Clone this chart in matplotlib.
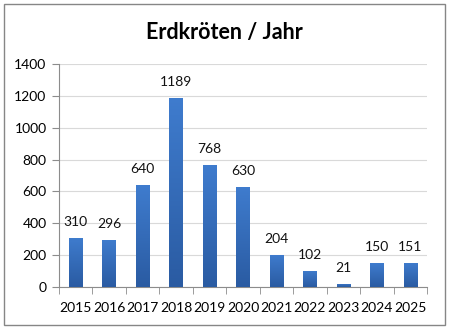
import numpy as np
import matplotlib
matplotlib.use("Agg")
import matplotlib.pyplot as plt
from matplotlib.patches import Rectangle
from matplotlib.colors import LinearSegmentedColormap

# chart data
years = ["2015", "2016", "2017", "2018", "2019", "2020",
         "2021", "2022", "2023", "2024", "2025"]
counts = [310, 296, 640, 1189, 768, 630, 204, 102, 21, 150, 151]
y_ticks = [0, 200, 400, 600, 800, 1000, 1200, 1400]

plt.rcParams['font.family'] = ['Lato', 'DejaVu Sans']

fig = plt.figure(figsize=(4.49, 3.29), dpi=100)
fig.patches.append(Rectangle((4 / 449, 4 / 329), 441 / 449, 321 / 329,
                             transform=fig.transFigure, fill=False,
                             edgecolor='#868686', linewidth=1.0))

ax = fig.add_axes([59 / 449, 42 / 329, 368 / 449, 223 / 329])
x = np.arange(len(years))
bars = ax.bar(x, counts, width=0.4, color='#3a72c0', zorder=2)

# vertical gradient inside each bar
cmap = LinearSegmentedColormap.from_list('bar', ['#2a5ba2', '#3f7cce'])
grad = np.linspace(0, 1, 256).reshape(-1, 1)
for b in bars:
    bx, by = b.get_x(), b.get_y()
    w, h = b.get_width(), b.get_height()
    im = ax.imshow(grad, cmap=cmap, aspect='auto', origin='lower',
                   extent=[bx, bx + w, by, by + h], zorder=3)
    im.set_clip_path(b)
    b.set_facecolor('none')

for xi, v in zip(x, counts):
    ax.annotate(str(v), (xi, v), xytext=(0, 7), textcoords='offset points',
                ha='center', va='bottom', fontsize=10, color='#111111')

ax.set_xlim(-0.5, len(years) - 0.5)
ax.set_ylim(0, 1400)
ax.set_yticks(y_ticks)
ax.set_xticks(x)
ax.set_xticklabels(years)
ax.set_xticks(np.arange(len(years) + 1) - 0.5, minor=True)
ax.tick_params(axis='x', which='major', length=0, labelsize=10, pad=11)
ax.tick_params(axis='x', which='minor', length=5, color='#8c8c8c')
ax.tick_params(axis='y', length=5, color='#8c8c8c', labelsize=10, pad=4)
ax.grid(axis='y', color='#d9d9d9', linewidth=0.8, zorder=0)
ax.set_axisbelow(True)
for s in ['top', 'right']:
    ax.spines[s].set_visible(False)
for s in ['left', 'bottom']:
    ax.spines[s].set_color('#8c8c8c')
    ax.spines[s].set_linewidth(0.8)

fig.text(0.5, 1 - 32 / 329, "Erdkröten / Jahr", ha='center', va='center',
         fontsize=15.5, fontweight='bold', color='black')

fig.savefig("out.png", dpi=100)
